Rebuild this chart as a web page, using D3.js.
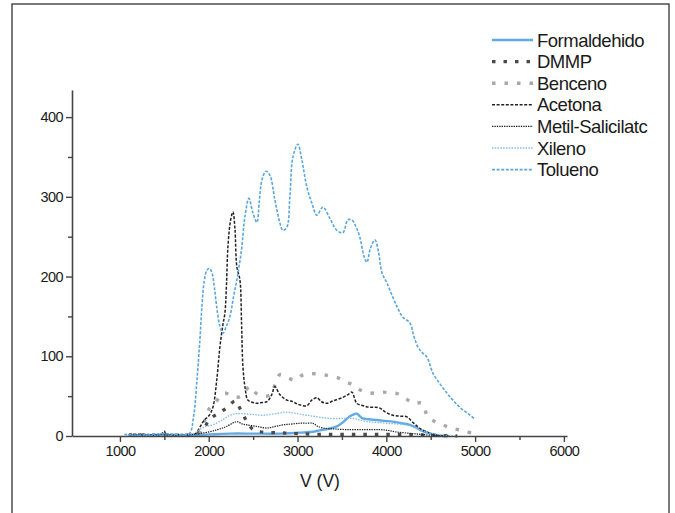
<!DOCTYPE html>
<html><head><meta charset="utf-8">
<script src="https://cdn.jsdelivr.net/npm/d3@7"></script>
<style>
html,body{margin:0;padding:0;background:#fff;}
svg{display:block;font-family:Arial,"Liberation Sans",Helvetica,sans-serif;}
</style></head>
<body>
<svg id="chart" width="675" height="513"></svg>
<script>
// ---- data (V, signal) ----
const formaldehido = [[1100,1],[1500,1],[1800,1],[2000,2],[2239,3],[2500,3],[2800,3],[3000,4],[3150,5],[3250,7],[3350,9],[3443,12],[3520,18],[3580,24],[3612,26],[3668,28],[3700,25],[3736,22],[3800,21],[3894,20],[3980,19],[4074,18],[4170,16],[4265,14],[4330,11],[4412,6],[4500,3],[4570,1],[4700,0]];
const dmmp = [[1100,1],[1400,1],[1700,1],[1850,2],[1950,10],[2000,20],[2100,28],[2200,35],[2300,44],[2350,35],[2420,20],[2500,8],[2600,5],[2800,4],[3000,3],[3300,2],[3600,2],[3900,2],[4200,2],[4500,1],[4800,0]];
const benceno = [[1900,2],[1957,20],[2010,35],[2070,41],[2130,50],[2182,54],[2260,50],[2351,49],[2464,62],[2520,55],[2576,51],[2689,51],[2750,65],[2802,77],[2890,73],[2970,70],[3050,76],[3117,78],[3200,78],[3286,77],[3370,75],[3455,73],[3540,68],[3624,64],[3700,58],[3793,54],[3880,54],[3961,55],[4050,54],[4130,53],[4220,47],[4299,41],[4400,41],[4468,24],[4550,18],[4637,14],[4720,10],[4806,8],[4900,5],[4975,4]];
const acetona = [[1100,2],[1300,2],[1450,1],[1500,6],[1520,2],[1700,2],[1850,3],[1900,11],[1950,20],[2000,25],[2047,36],[2090,70],[2126,112],[2160,140],[2182,154],[2200,190],[2216,237],[2245,270],[2273,281],[2295,260],[2317,212],[2351,196],[2370,140],[2385,87],[2410,60],[2441,45],[2500,42],[2542,41],[2600,42],[2655,43],[2710,52],[2745,62],[2800,52],[2880,45],[2950,43],[3000,40],[3106,38],[3160,45],[3218,48],[3270,43],[3330,41],[3400,44],[3500,48],[3570,52],[3612,55],[3668,41],[3740,38],[3814,36],[3870,36],[3927,35],[3990,30],[4074,26],[4150,25],[4232,24],[4290,18],[4350,12],[4400,8],[4457,5],[4570,1],[4700,0]];
const metilSalicilato = [[1100,1],[1500,2],[1800,2],[1950,4],[2100,8],[2200,12],[2317,18],[2380,15],[2430,14],[2540,12],[2655,10],[2750,12],[2835,14],[2930,15],[3027,16],[3100,16],[3173,16],[3230,12],[3286,10],[3400,9],[3556,8],[3750,8],[3927,8],[4020,7],[4119,5],[4300,3],[4500,1],[4700,0]];
const xileno = [[1100,1],[1500,1],[1800,2],[1850,4],[1900,8],[1970,12],[2047,14],[2150,20],[2239,26],[2300,28],[2385,28],[2500,27],[2610,26],[2750,28],[2880,30],[3000,28],[3105,26],[3230,24],[3365,22],[3500,22],[3624,22],[3700,20],[3781,18],[3900,17],[4006,16],[4120,15],[4232,14],[4300,11],[4378,8],[4450,5],[4524,3],[4650,1],[4800,0]];
const tolueno = [[1050,2],[1200,1],[1350,2],[1500,3],[1650,2],[1780,3],[1830,25],[1867,70],[1900,120],[1923,162],[1950,195],[1980,208],[2010,210],[2036,205],[2065,185],[2092,160],[2125,138],[2160,129],[2200,138],[2239,150],[2280,175],[2317,196],[2345,215],[2373,237],[2407,275],[2452,298],[2497,280],[2542,268],[2570,295],[2599,321],[2644,332],[2689,327],[2745,296],[2802,267],[2835,258],[2880,262],[2914,300],[2948,350],[3004,366],[3049,346],[3106,312],[3162,292],[3218,277],[3286,287],[3365,273],[3443,258],[3511,255],[3567,271],[3612,271],[3660,262],[3700,250],[3750,225],[3781,218],[3820,235],[3871,246],[3910,232],[3950,205],[4006,192],[4074,174],[4130,160],[4186,149],[4265,142],[4310,125],[4355,112],[4400,105],[4457,99],[4524,79],[4600,66],[4682,54],[4750,45],[4828,36],[4920,28],[5000,21]];

const seriesNames = ["Formaldehido","DMMP","Benceno","Acetona","Metil-Salicilatc","Xileno","Tolueno"];
const seriesData = [formaldehido, dmmp, benceno, acetona, metilSalicilato, xileno, tolueno];
const xTicks = [1000,2000,3000,4000,5000,6000];
const xMinorTicks = [1500,2500,3500,4500,5500];
const yTicks = [0,100,200,300,400];
const yMinorTicks = [50,150,250,350];
const xTitle = "V (V)";

// ---- styles ----
const styles = [
  {color:"#62aae6", width:2.4, dash:null},
  {color:"#4a4a4a", width:3.2, dash:"3.5,8"},
  {color:"#a8a8a8", width:3.4, dash:"3.5,9"},
  {color:"#222", width:1.5, dash:"3,1.6"},
  {color:"#222", width:1.2, dash:"1.4,1"},
  {color:"#7fbcee", width:1.3, dash:"1.5,1.3"},
  {color:"#5aa5e4", width:1.6, dash:"3,1.6"}
];

const svg = d3.select("#chart");
// outer frame
svg.append("rect").attr("x",12).attr("y",4).attr("width",657).attr("height",520)
  .attr("fill","none").attr("stroke","#333").attr("stroke-width",1.3);

const x = d3.scaleLinear().domain([460, 6035]).range([72, 567]);
const y = d3.scaleLinear().domain([0, 434]).range([436, 90]);

const line = d3.line().x(d=>x(d[0])).y(d=>y(d[1])).curve(d3.curveCatmullRom.alpha(0.5));

const plot = svg.append("g");
seriesData.forEach((data,i)=>{
  const s = styles[i];
  plot.append("path").datum(data).attr("d",line)
    .attr("fill","none").attr("stroke",s.color).attr("stroke-width",s.width)
    .attr("stroke-dasharray",s.dash).attr("stroke-linejoin","round");
});

// axes
const axisColor = "#444";
const xAxis = svg.append("g").attr("transform","translate(0,436)")
  .call(d3.axisBottom(x).tickValues(xTicks).tickFormat(d3.format("d")).tickSize(6).tickSizeOuter(0));
svg.append("g").attr("transform","translate(0,436)")
  .call(d3.axisBottom(x).tickValues(xMinorTicks).tickFormat("").tickSize(4).tickSizeOuter(0))
  .select(".domain").remove();
const yAxis = svg.append("g").attr("transform","translate(72,0)")
  .call(d3.axisLeft(y).tickValues(yTicks).tickFormat(d3.format("d")).tickSize(6).tickSizeOuter(0));
svg.append("g").attr("transform","translate(72,0)")
  .call(d3.axisLeft(y).tickValues(yMinorTicks).tickFormat("").tickSize(4).tickSizeOuter(0))
  .select(".domain").remove();

svg.selectAll(".domain").attr("stroke",axisColor).attr("stroke-width",1.6);
svg.selectAll(".tick line").attr("stroke",axisColor).attr("stroke-width",1.4);
xAxis.selectAll("text").attr("font-size",14.5).attr("fill","#1a1a1a").attr("y",10).attr("dy","0.71em")
  .attr("font-family","Arial, Liberation Sans, sans-serif").attr("letter-spacing","-0.6");
yAxis.selectAll("text").attr("font-size",14.5).attr("fill","#1a1a1a").attr("x",-9)
  .attr("font-family","Arial, Liberation Sans, sans-serif").attr("letter-spacing","-0.6");

svg.append("text").attr("x",320).attr("y",487).attr("text-anchor","middle")
  .attr("font-size",17.5).attr("fill","#1a1a1a").text(xTitle);

// legend
const lg = svg.append("g");
seriesNames.forEach((name,i)=>{
  const cy = 40 + i*21.6;
  const s = styles[i];
  lg.append("line").attr("x1",492).attr("x2",533).attr("y1",cy).attr("y2",cy)
    .attr("stroke",s.color).attr("stroke-width",s.width).attr("stroke-dasharray",s.dash);
  lg.append("text").attr("x",537).attr("y",cy+6.5).attr("font-size",18.5)
    .attr("letter-spacing","-0.5").attr("fill","#1a1a1a").text(name);
});
</script>
</body></html>
